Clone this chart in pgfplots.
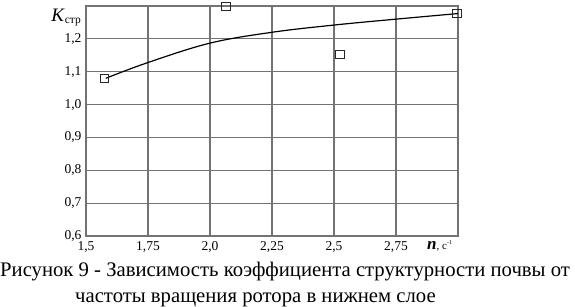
\documentclass[border=0pt]{standalone}
\usepackage{fontspec}
\setmainfont{Liberation Serif}
\usepackage{pgfplots}
\pgfplotsset{compat=1.18}
\begin{document}
\begin{tikzpicture}
\path[use as bounding box] (0pt,0pt) rectangle (575pt,307pt);
\begin{axis}[
  at={(86pt,71pt)}, anchor=south west, scale only axis,
  width=372pt, height=230pt,
  xmin=1.5, xmax=3, ymin=0.6, ymax=1.3,
  xtick={1.5,1.75,2,2.25,2.5,2.75},
  xticklabels={{1,5},{1,75},{2,0},{2,25},{2,5},{2,75}},
  ytick={0.6,0.7,0.8,0.9,1.0,1.1,1.2},
  yticklabels={{0,6},{0,7},{0,8},{0,9},{1,0},{1,1},{1,2}},
  grid=major,
  grid style={draw=black!55, line width=1.2pt},
  tick style={draw=black!55, line width=1.2pt},
  axis line style={draw=black!55, line width=1.2pt},
  /pgf/number format/assume math mode=true,
  ticklabel style={font=\fontsize{13.5}{13.5}\selectfont, text=black},
  yticklabel style={xshift=-1pt},
  xticklabel style={yshift=-2pt},
  clip=false,
]
\foreach \gx in {1.75,2.0,2.25,2.5,2.75} {
  \edef\tmp{\noexpand\draw[black!55, line width=1.2pt] (axis cs:\gx,0.6) -- (axis cs:\gx,1.3);}\tmp
}
\foreach \gy in {0.7,0.8,0.9,1.0,1.1,1.2} {
  \edef\tmp{\noexpand\draw[black!55, line width=1.2pt] (axis cs:1.5,\gy) -- (axis cs:3,\gy);}\tmp
}
\addplot[black, line width=1.2pt, smooth, tension=0.6] coordinates {
  (1.58,1.08) (1.75,1.128) (2.0,1.187) (2.25,1.22) (2.5,1.242) (2.75,1.26) (3.0,1.277)
};
\addplot[only marks, mark=square, mark size=4.3pt, mark options={draw=black!85, line width=1pt, fill=white}] coordinates {
  (1.575,1.079) (2.065,1.298) (2.525,1.152) (2.996,1.277)
};
\end{axis}
\node[anchor=base east, inner sep=0pt] at (81pt,285pt) {\fontsize{19}{19}\selectfont\textit{K}\raisebox{-2pt}{\fontsize{11.5}{11.5}\selectfont стр}};
\node[anchor=base west, inner sep=0pt] at (427pt,57pt) {\fontsize{17}{17}\selectfont\textbf{\textit{n}}\fontsize{11}{11}\selectfont, с\raisebox{5pt}{\fontsize{6}{6}\selectfont -1}};
\node[anchor=base west, inner sep=0pt] at (0pt,30.3pt) {\fontsize{20.7}{20.7}\selectfont Рисунок 9 - Зависимость коэффициента структурности почвы от};
\node[anchor=base west, inner sep=0pt] at (75pt,4.7pt) {\fontsize{20.7}{20.7}\selectfont частоты вращения ротора в нижнем слое};
\end{tikzpicture}
\end{document}
